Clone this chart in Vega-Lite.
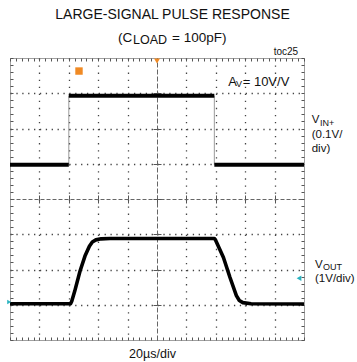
{
  "$schema": "https://vega.github.io/schema/vega-lite/v6.json",
  "width": 294,
  "height": 282,
  "autosize": {"type": "none"},
  "padding": {"left": 10, "top": 58, "right": 53, "bottom": 22},
  "background": "#ffffff",
  "config": {
    "view": {"stroke": "#a0a0a0", "strokeWidth": 1},
    "axis": {"labels": false, "domain": false, "grid": false, "ticks": true, "tickColor": "#555555", "tickWidth": 1},
    "text": {"font": "Liberation Sans, Arial, sans-serif", "color": "#111111"}
  },
  "datasets": {
    "vin": [
      {"seg": "a", "t": 0, "v": 0.97},
      {"seg": "a", "t": 2.0, "v": 0.97},
      {"seg": "b", "t": 2.0, "v": 2.93},
      {"seg": "b", "t": 6.95, "v": 2.93},
      {"seg": "c", "t": 6.95, "v": 0.97},
      {"seg": "c", "t": 10, "v": 0.97}
    ],
    "edges": [
      {"t": 2.0, "v1": 0.97, "v2": 2.93},
      {"t": 6.95, "v1": 0.97, "v2": 2.93}
    ],
    "vout": [
      {"t": 0, "v": -2.97},
      {"t": 2.06, "v": -2.97},
      {"t": 2.10, "v": -2.9},
      {"t": 2.20, "v": -2.62},
      {"t": 2.38, "v": -2.05},
      {"t": 2.55, "v": -1.62},
      {"t": 2.70, "v": -1.34},
      {"t": 2.80, "v": -1.22},
      {"t": 2.92, "v": -1.16},
      {"t": 3.10, "v": -1.13},
      {"t": 3.40, "v": -1.12},
      {"t": 6.95, "v": -1.12},
      {"t": 6.99, "v": -1.16},
      {"t": 7.26, "v": -1.66},
      {"t": 7.48, "v": -2.22},
      {"t": 7.70, "v": -2.74},
      {"t": 7.80, "v": -2.88},
      {"t": 7.92, "v": -2.94},
      {"t": 8.20, "v": -2.97},
      {"t": 10, "v": -2.98}
    ],
    "heading": [{"label": "LARGE-SIGNAL PULSE RESPONSE", "x": 5.527, "y": 5.098}],
    "line2Main": [
      {"label": "(C", "x": 3.673, "y": 4.454},
      {"label": "= 100pF)", "x": 5.51, "y": 4.454}
    ],
    "line2Sub": [{"label": "LOAD", "x": 4.184, "y": 4.397}],
    "avText": [
      {"label": "A", "x": 7.425, "y": 3.206},
      {"label": "= 10V/V", "x": 7.915, "y": 3.206}
    ],
    "avSub": [{"label": "V", "x": 7.687, "y": 3.169}],
    "sideText": [
      {"label": "V", "x": 10.262, "y": 2.147},
      {"label": "(0.1V/", "x": 10.262, "y": 1.722},
      {"label": "div)", "x": 10.262, "y": 1.342},
      {"label": "V", "x": 10.374, "y": -1.966},
      {"label": "(1V/div)", "x": 10.374, "y": -2.346}
    ],
    "sideSub": [
      {"label": "IN+", "x": 10.544, "y": 2.08},
      {"label": "OUT", "x": 10.646, "y": -2.014}
    ],
    "smallText": [{"label": "toc25", "x": 9.8, "y": 4.085}],
    "footer": [{"label": "20µs/div", "x": 4.847, "y": -4.51}],
    "trigger": [{"x": 2.347, "y": 3.63}],
    "topMarker": [{"x": 5.0, "y": 3.915}],
    "leftMarker": [{"x": -0.03, "y": -2.92}],
    "rightMarker": [{"x": 9.83, "y": -2.25}]
  },
  "resolve": {"axis": {"x": "independent", "y": "independent"}},
  "layer": [
    {
      "data": {"name": "edges"},
      "mark": {"type": "rule", "color": "#9a9a9a", "strokeWidth": 1},
      "encoding": {
        "x": {"field": "t", "type": "quantitative", "scale": {"domain": [0, 10], "nice": false, "zero": false},
          "axis": {"orient": "bottom", "values": [1, 2, 3, 4, 6, 7, 8, 9], "grid": true, "gridDash": [1.3, 5.75], "gridColor": "#444444", "gridWidth": 1.3, "ticks": false, "title": null}},
        "y": {"field": "v1", "type": "quantitative", "scale": {"domain": [-4, 4], "nice": false, "zero": false},
          "axis": {"orient": "left", "values": [-3, -2, -1, 1, 2, 3], "grid": true, "gridDash": [1.3, 4.58], "gridColor": "#444444", "gridWidth": 1.3, "ticks": false, "title": null}},
        "y2": {"field": "v2"}
      }
    },
    {
      "data": {"name": "vin"},
      "mark": {"type": "line", "color": "#000000", "strokeWidth": 4, "strokeCap": "butt"},
      "encoding": {
        "x": {"field": "t", "type": "quantitative", "scale": {"domain": [0, 10], "nice": false, "zero": false},
          "axis": {"orient": "bottom", "values": [0,0.2,0.4,0.6,0.8,1,1.2,1.4,1.6,1.8,2,2.2,2.4,2.6,2.8,3,3.2,3.4,3.6,3.8,4,4.2,4.4,4.6,4.8,5,5.2,5.4,5.6,5.8,6,6.2,6.4,6.6,6.8,7,7.2,7.4,7.6,7.8,8,8.2,8.4,8.6,8.8,9,9.2,9.4,9.6,9.8,10], "tickSize": -3, "title": null}},
        "y": {"field": "v", "type": "quantitative", "scale": {"domain": [-4, 4], "nice": false, "zero": false},
          "axis": {"orient": "left", "values": [-4,-3.8,-3.6,-3.4,-3.2,-3,-2.8,-2.6,-2.4,-2.2,-2,-1.8,-1.6,-1.4,-1.2,-1,-0.8,-0.6,-0.4,-0.2,0,0.2,0.4,0.6,0.8,1,1.2,1.4,1.6,1.8,2,2.2,2.4,2.6,2.8,3,3.2,3.4,3.6,3.8,4], "tickSize": -3, "title": null}},
        "detail": {"field": "seg", "type": "nominal"}
      }
    },
    {
      "data": {"name": "vout"},
      "mark": {"type": "line", "color": "#000000", "strokeWidth": 3.6, "strokeJoin": "round"},
      "encoding": {
        "x": {"field": "t", "type": "quantitative", "scale": {"domain": [0, 10], "nice": false, "zero": false},
          "axis": {"orient": "top", "values": [0,0.2,0.4,0.6,0.8,1,1.2,1.4,1.6,1.8,2,2.2,2.4,2.6,2.8,3,3.2,3.4,3.6,3.8,4,4.2,4.4,4.6,4.8,5,5.2,5.4,5.6,5.8,6,6.2,6.4,6.6,6.8,7,7.2,7.4,7.6,7.8,8,8.2,8.4,8.6,8.8,9,9.2,9.4,9.6,9.8,10], "tickSize": -3, "title": null}},
        "y": {"field": "v", "type": "quantitative", "scale": {"domain": [-4, 4], "nice": false, "zero": false},
          "axis": {"orient": "right", "values": [-4,-3.8,-3.6,-3.4,-3.2,-3,-2.8,-2.6,-2.4,-2.2,-2,-1.8,-1.6,-1.4,-1.2,-1,-0.8,-0.6,-0.4,-0.2,0,0.2,0.4,0.6,0.8,1,1.2,1.4,1.6,1.8,2,2.2,2.4,2.6,2.8,3,3.2,3.4,3.6,3.8,4], "tickSize": -3, "title": null}}
      }
    },
    {
      "data": {"name": "heading"},
      "mark": {"type": "text", "fontSize": 14, "align": "center", "baseline": "alphabetic"},
      "encoding": {
        "x": {"field": "x", "type": "quantitative", "scale": {"domain": [0, 10], "nice": false, "zero": false},
          "axis": {"orient": "bottom", "offset": -141, "values": [1, 2, 3, 4, 5, 6, 7, 8, 9], "tickSize": 4, "domain": true, "domainDash": [4, 2], "domainColor": "#666666", "title": null}},
        "y": {"field": "y", "type": "quantitative", "scale": {"domain": [-4, 4], "nice": false, "zero": false},
          "axis": {"orient": "left", "offset": -147, "values": [-3, -2, -1, 0, 1, 2, 3], "tickSize": 4, "domain": true, "domainDash": [5, 2], "domainColor": "#666666", "title": null}},
        "text": {"field": "label"}
      }
    },
    {
      "data": {"name": "line2Main"},
      "mark": {"type": "text", "fontSize": 13.5, "align": "left", "baseline": "alphabetic"},
      "encoding": {
        "x": {"field": "x", "type": "quantitative", "scale": {"domain": [0, 10], "nice": false, "zero": false},
          "axis": {"orient": "top", "offset": -141, "values": [1, 2, 3, 4, 5, 6, 7, 8, 9], "tickSize": 4, "title": null}},
        "y": {"field": "y", "type": "quantitative", "scale": {"domain": [-4, 4], "nice": false, "zero": false},
          "axis": {"orient": "right", "offset": -147, "values": [-3, -2, -1, 0, 1, 2, 3], "tickSize": 4, "title": null}},
        "text": {"field": "label"}
      }
    },
    {
      "data": {"name": "line2Sub"},
      "mark": {"type": "text", "fontSize": 12.5, "align": "left", "baseline": "alphabetic"},
      "encoding": {
        "x": {"field": "x", "type": "quantitative", "scale": {"domain": [0, 10], "nice": false, "zero": false}, "axis": null},
        "y": {"field": "y", "type": "quantitative", "scale": {"domain": [-4, 4], "nice": false, "zero": false}, "axis": null},
        "text": {"field": "label"}
      }
    },
    {
      "data": {"name": "avText"},
      "mark": {"type": "text", "fontSize": 13, "align": "left", "baseline": "alphabetic"},
      "encoding": {
        "x": {"field": "x", "type": "quantitative", "scale": {"domain": [0, 10], "nice": false, "zero": false}, "axis": null},
        "y": {"field": "y", "type": "quantitative", "scale": {"domain": [-4, 4], "nice": false, "zero": false}, "axis": null},
        "text": {"field": "label"}
      }
    },
    {
      "data": {"name": "avSub"},
      "mark": {"type": "text", "fontSize": 9, "align": "left", "baseline": "alphabetic"},
      "encoding": {
        "x": {"field": "x", "type": "quantitative", "scale": {"domain": [0, 10], "nice": false, "zero": false}, "axis": null},
        "y": {"field": "y", "type": "quantitative", "scale": {"domain": [-4, 4], "nice": false, "zero": false}, "axis": null},
        "text": {"field": "label"}
      }
    },
    {
      "data": {"name": "sideText"},
      "mark": {"type": "text", "fontSize": 11.5, "align": "left", "baseline": "alphabetic"},
      "encoding": {
        "x": {"field": "x", "type": "quantitative", "scale": {"domain": [0, 10], "nice": false, "zero": false}, "axis": null},
        "y": {"field": "y", "type": "quantitative", "scale": {"domain": [-4, 4], "nice": false, "zero": false}, "axis": null},
        "text": {"field": "label"}
      }
    },
    {
      "data": {"name": "sideSub"},
      "mark": {"type": "text", "fontSize": 9, "align": "left", "baseline": "alphabetic"},
      "encoding": {
        "x": {"field": "x", "type": "quantitative", "scale": {"domain": [0, 10], "nice": false, "zero": false}, "axis": null},
        "y": {"field": "y", "type": "quantitative", "scale": {"domain": [-4, 4], "nice": false, "zero": false}, "axis": null},
        "text": {"field": "label"}
      }
    },
    {
      "data": {"name": "smallText"},
      "mark": {"type": "text", "fontSize": 10, "align": "right", "baseline": "alphabetic"},
      "encoding": {
        "x": {"field": "x", "type": "quantitative", "scale": {"domain": [0, 10], "nice": false, "zero": false}, "axis": null},
        "y": {"field": "y", "type": "quantitative", "scale": {"domain": [-4, 4], "nice": false, "zero": false}, "axis": null},
        "text": {"field": "label"}
      }
    },
    {
      "data": {"name": "footer"},
      "mark": {"type": "text", "fontSize": 12.5, "align": "center", "baseline": "alphabetic"},
      "encoding": {
        "x": {"field": "x", "type": "quantitative", "scale": {"domain": [0, 10], "nice": false, "zero": false}, "axis": null},
        "y": {"field": "y", "type": "quantitative", "scale": {"domain": [-4, 4], "nice": false, "zero": false}, "axis": null},
        "text": {"field": "label"}
      }
    },
    {
      "data": {"name": "trigger"},
      "mark": {"type": "point", "shape": "square", "filled": true, "color": "#f08a24", "size": 55, "opacity": 1},
      "encoding": {
        "x": {"field": "x", "type": "quantitative", "scale": {"domain": [0, 10], "nice": false, "zero": false}, "axis": null},
        "y": {"field": "y", "type": "quantitative", "scale": {"domain": [-4, 4], "nice": false, "zero": false}, "axis": null}
      }
    },
    {
      "data": {"name": "topMarker"},
      "mark": {"type": "point", "shape": "triangle-down", "filled": true, "color": "#f08a24", "size": 35, "opacity": 1},
      "encoding": {
        "x": {"field": "x", "type": "quantitative", "scale": {"domain": [0, 10], "nice": false, "zero": false}, "axis": null},
        "y": {"field": "y", "type": "quantitative", "scale": {"domain": [-4, 4], "nice": false, "zero": false}, "axis": null}
      }
    },
    {
      "data": {"name": "leftMarker"},
      "mark": {"type": "point", "shape": "triangle-right", "filled": true, "color": "#2ab3c0", "size": 20, "opacity": 1},
      "encoding": {
        "x": {"field": "x", "type": "quantitative", "scale": {"domain": [0, 10], "nice": false, "zero": false}, "axis": null},
        "y": {"field": "y", "type": "quantitative", "scale": {"domain": [-4, 4], "nice": false, "zero": false}, "axis": null}
      }
    },
    {
      "data": {"name": "rightMarker"},
      "mark": {"type": "point", "shape": "triangle-left", "filled": true, "color": "#2ab3c0", "size": 30, "opacity": 1},
      "encoding": {
        "x": {"field": "x", "type": "quantitative", "scale": {"domain": [0, 10], "nice": false, "zero": false}, "axis": null},
        "y": {"field": "y", "type": "quantitative", "scale": {"domain": [-4, 4], "nice": false, "zero": false}, "axis": null}
      }
    }
  ]
}
